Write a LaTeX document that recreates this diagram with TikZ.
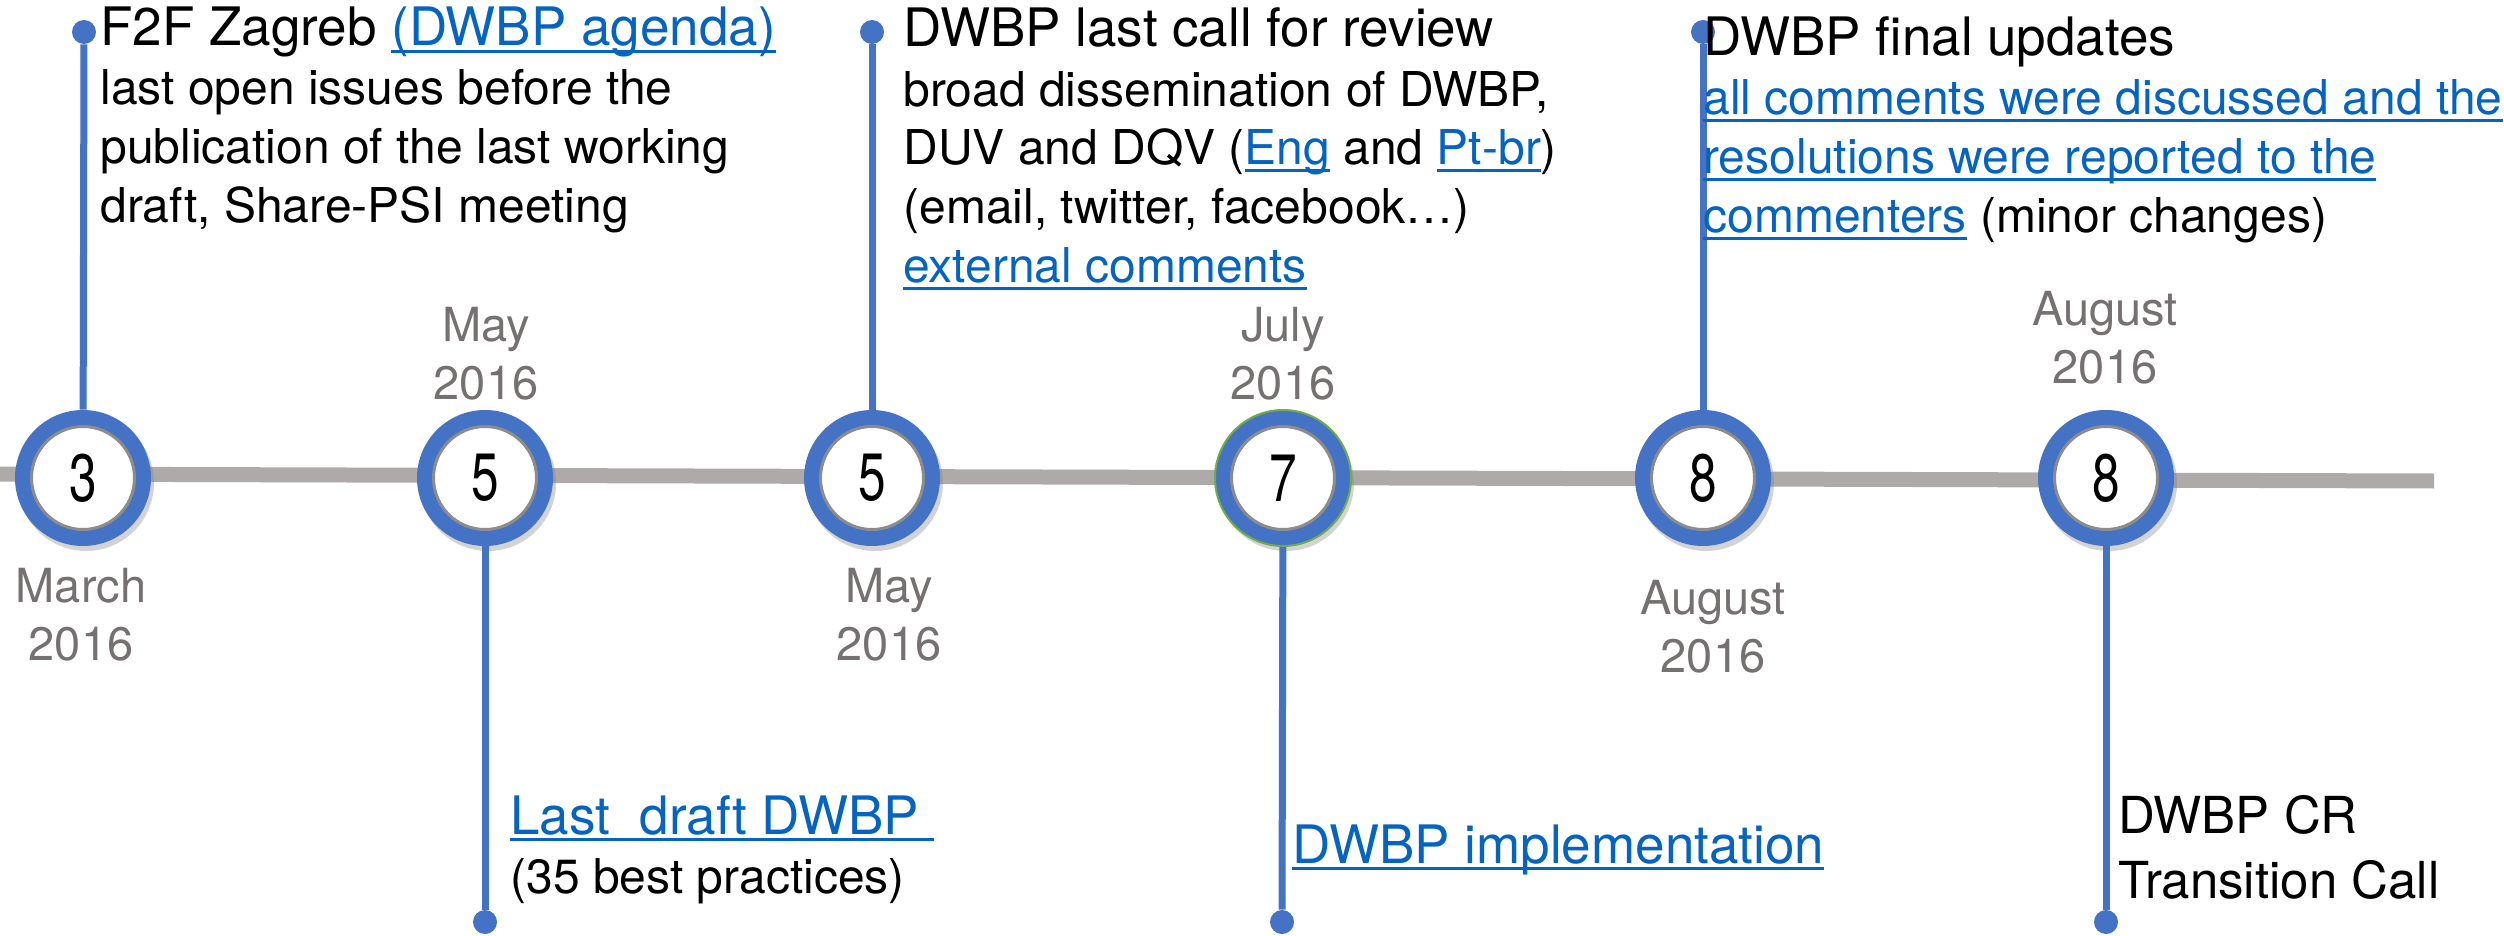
\documentclass[tikz,border=0pt]{standalone}
\usepackage{fontspec}
\setmainfont{TeX Gyre Heros}
\usetikzlibrary{shadows}
\definecolor{ringblue}{HTML}{4472C4}
\definecolor{linkblue}{HTML}{0563C1}
\definecolor{dategray}{HTML}{767171}
\definecolor{linegray}{HTML}{AEAAAA}
\definecolor{ringgreen}{HTML}{70AD47}
\definecolor{facegray}{HTML}{8C8C8C}
\newsavebox{\lnkbox}
\newcommand{\lnk}[1]{\textcolor{linkblue}{\sbox{\lnkbox}{#1}\rlap{\rule[-3.7pt]{\wd\lnkbox}{1.5pt}}\usebox{\lnkbox}}}
\newcommand{\evtitle}{\fontsize{26.5}{29.3}\selectfont}
\newcommand{\digit}[1]{\scalebox{0.74}[1]{#1}}
\tikzset{
  ring/.style={circle, fill=ringblue, minimum size=68pt, inner sep=0pt,
    drop shadow={opacity=0.35, shadow xshift=1.5pt, shadow yshift=-2.5pt}},
  face/.style={circle, fill=white, draw=facegray, line width=1.5pt, minimum size=51.5pt,
    inner sep=0pt, font=\fontsize{33.5}{33.5}\selectfont},
  tipdot/.style={circle, fill=ringblue, minimum size=12pt, inner sep=0pt},
  stem/.style={ringblue, line width=3.5pt},
  timeline/.style={linegray, line width=7.5pt},
  event/.style={anchor=base west, align=left, inner sep=0pt, font=\fontsize{24}{29.5}\selectfont},
  date/.style={anchor=base, align=center, inner sep=0pt, text=dategray, font=\fontsize{23.5}{29}\selectfont}
}
\begin{document}
\begin{tikzpicture}[x=0.5pt,y=-0.5pt]
  \useasboundingbox (0,0) rectangle (2504,936);
  \coordinate (tl-start) at (0,474);
  \coordinate (tl-end) at (2434,481);
  \draw [timeline] (tl-start) -- (tl-end);

  \node [ring] (m1) at (83,478) {};
  \node [ring] (m2) at (485,478) {};
  \node [ring] (m3) at (872,478) {};
  \node [ring, draw=ringgreen, line width=1pt] (m4) at (1283,478) {};
  \node [ring] (m5) at (1703,478) {};
  \node [ring] (m6) at (2106,478) {};
  \node [face] at (m1) {\digit{3}};
  \node [face] at (m2) {\digit{5}};
  \node [face] at (m3) {\digit{5}};
  \node [face] at (m4) {\digit{7}};
  \node [face] at (m5) {\digit{8}};
  \node [face] at (m6) {\digit{8}};

  \node [tipdot] (d1) at (84,32) {};
  \node [tipdot] (d2) at (485,922) {};
  \node [tipdot] (d3) at (872,32) {};
  \node [tipdot] (d4) at (1282,922) {};
  \node [tipdot] (d5) at (1703,32) {};
  \node [tipdot] (d6) at (2106,922) {};
  \draw [stem] (d1) -- (m1);
  \draw [stem] (m2) -- (d2);
  \draw [stem] (d3) -- (m3);
  \draw [stem] (m4) -- (d4);
  \draw [stem] (d5) -- (m5);
  \draw [stem] (m6) -- (d6);

  \node [date] (t1) at (81,660) {March\\2016};
  \node [date] (t2) at (486,399) {May\\2016};
  \node [date] (t3) at (889,660) {May\\2016};
  \node [date] (t4) at (1283,399) {July\\2016};
  \node [date] (t5) at (1713,672) {August\\2016};
  \node [date] (t6) at (2105,383) {August\\2016};

  \node [event] (e1) at (100,223) {{\evtitle F2F Zagreb \lnk{(DWBP agenda)}}\\
    last open issues before the\\publication of the last working\\draft, Share-PSI meeting};
  \node [event] (e2) at (510,893) {{\evtitle\lnk{Last\ \ draft DWBP\ }}\\(35 best practices)};
  \node [event] (e3) at (903,283) {{\evtitle DWBP last call for review}\\
    broad dissemination of DWBP,\\DUV and DQV (\lnk{Eng} and \lnk{Pt-br})\\
    (email, twitter, facebook…)\\\lnk{external comments}};
  \node [event] (e4) at (1292,863) {{\evtitle\lnk{DWBP implementation}}};
  \node [event] (e5) at (1703,233) {{\evtitle DWBP final updates}\\
    \lnk{all comments were discussed and the}\\\lnk{resolutions were reported to the}\\
    \lnk{commenters} (minor changes)};
  \node [event, font=\fontsize{25.5}{32.5}\selectfont] (e6) at (2118,898) {DWBP CR\\Transition Call};
\end{tikzpicture}
\end{document}
